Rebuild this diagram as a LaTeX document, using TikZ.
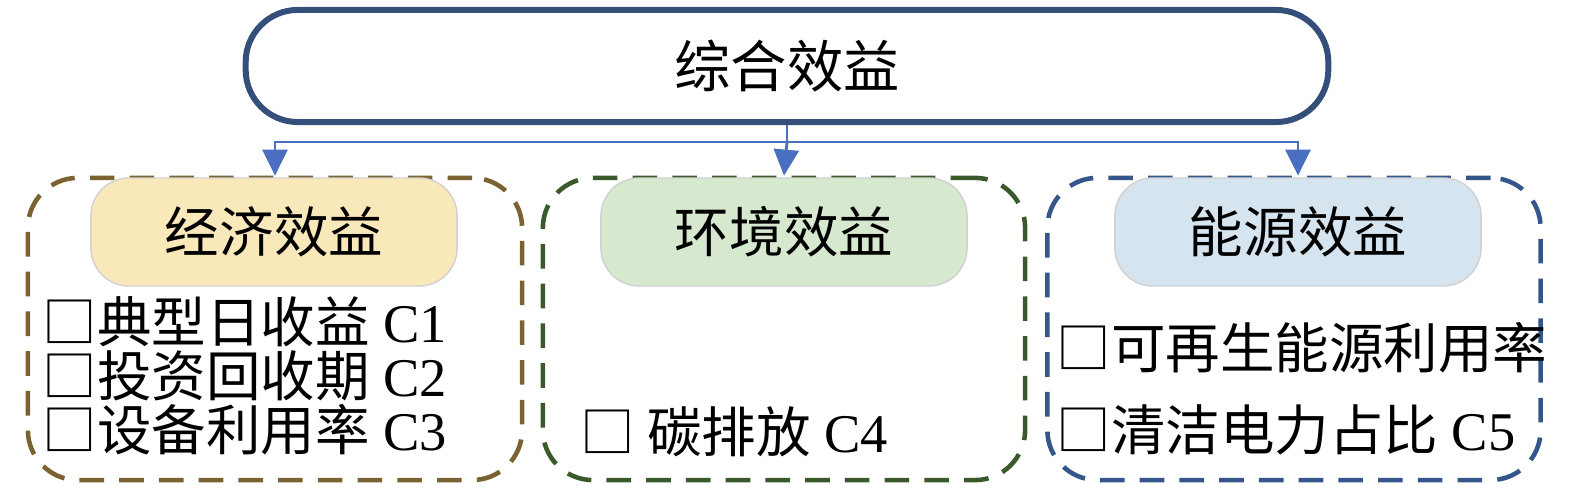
\documentclass[tikz,border=0pt]{standalone}
\usepackage{fontspec}
\setmainfont{Liberation Serif}
\newfontfamily\cjk{Noto Sans CJK SC}
\usetikzlibrary{arrows.meta}
\definecolor{topblue}{HTML}{34507A}
\definecolor{linkblue}{HTML}{4A6FC0}
\definecolor{econbrown}{HTML}{7A6232}
\definecolor{envgreen}{HTML}{3B5A2C}
\definecolor{enerblue}{HTML}{35568A}
\definecolor{econfill}{HTML}{F9E8B9}
\definecolor{envfill}{HTML}{D6E9CE}
\definecolor{enerfill}{HTML}{D5E4EF}
\tikzset{
  frame/.style={draw, line width=1.3pt, dash pattern=on 7pt off 4.3pt, rounded corners=0.5cm, minimum width=#1, minimum height=3.02cm},
  head/.style={draw=black!18, line width=0.4pt, rounded corners=0.38cm, minimum width=3.66cm, minimum height=1.08cm, font=\cjk\fontsize{15.5pt}{18pt}\selectfont},
  item/.style={anchor=west, inner sep=0pt, font=\fontsize{15.5pt}{18pt}\selectfont},
  link/.style={linkblue, line width=0.8pt, -{Triangle[length=0.26cm,width=0.25cm]}}
}
\begin{document}
\begin{tikzpicture}[x=0.01cm,y=-0.01cm]
  \useasboundingbox (0,0) rectangle (1575,492);

  \draw node[draw=topblue, line width=1.7pt, rounded corners=0.52cm, minimum width=10.82cm, minimum height=1.12cm, font=\cjk\fontsize{16pt}{19pt}\selectfont] (total) at (787,66) {综合效益};

  \draw node[frame=4.94cm, econbrown] (econ) at (275,329) {};
  \draw node[frame=4.82cm, envgreen] (env) at (784,329) {};
  \draw node[frame=4.93cm, enerblue] (ener) at (1294,329) {};

  \draw node[head, fill=econfill] (econh) at (274,232) {经济效益};
  \draw node[head, fill=envfill] (envh) at (784,232) {环境效益};
  \draw node[head, fill=enerfill] (enerh) at (1298,232) {能源效益};

  \draw node[item] (c1) at (42,322) {{\cjk □典型日收益} C1};
  \draw node[item] (c2) at (42,376) {{\cjk □投资回收期} C2};
  \draw node[item] (c3) at (42,430) {{\cjk □设备利用率} C3};
  \draw node[item] (c4) at (580,432) {{\cjk □ 碳排放} C4};
  \draw node[item] (c5a) at (1056,348) {{\cjk □可再生能源利用率}};
  \draw node[item] (c5) at (1056,430) {{\cjk □清洁电力占比} C5};

  \coordinate (bus) at (787,142);
  \draw[linkblue, line width=0.8pt] (total.south) -- (bus);
  \draw[link] (bus) -| (econ.north);
  \draw[link] (bus) -- (env.north);
  \draw[link] (bus) -| ([xshift=0.04cm]ener.north);
\end{tikzpicture}
\end{document}
